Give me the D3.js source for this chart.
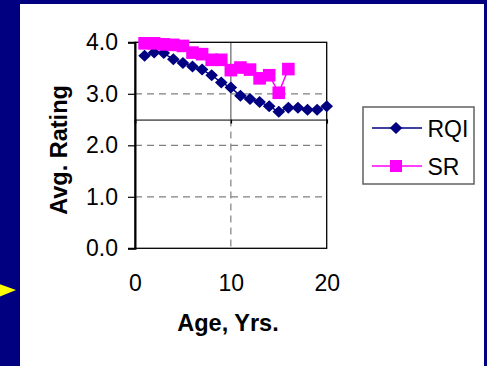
<!DOCTYPE html>
<html>
<head>
<meta charset="utf-8">
<script src="https://cdn.jsdelivr.net/npm/d3@7"></script>
<style>
  html, body { margin: 0; padding: 0; background: #000080; }
  svg { display: block; }
  text { font-family: Arial, "Liberation Sans", sans-serif; fill: #000; }
</style>
</head>
<body>
<svg id="chart" width="487" height="366"></svg>
<script>
// Ages (years) at which each rating was recorded
const rqiAges = [1, 2, 3, 4, 5, 6, 7, 8, 9, 10, 11, 12, 13, 14, 15, 16, 17, 18, 19, 20];
const rqiValues = [3.74, 3.80, 3.79, 3.67, 3.60, 3.53, 3.47, 3.36, 3.22, 3.12, 2.96, 2.90, 2.84, 2.76, 2.65, 2.73, 2.73, 2.69, 2.69, 2.76];
const srAges = [1, 2, 3, 4, 5, 6, 7, 8, 9, 10, 11, 12, 13, 14, 15, 16];
const srValues = [3.98, 3.98, 3.96, 3.95, 3.93, 3.80, 3.77, 3.66, 3.66, 3.46, 3.51, 3.47, 3.30, 3.36, 3.02, 3.48];
const xTicks = [0, 10, 20];
const yTicks = [0, 1, 2, 3, 4];
const yGrid = [1, 2, 3];
const crossValue = 2.5;   // horizontal reference line
const crossAge = 10;      // vertical reference line
const seriesNames = ["RQI", "SR"];

const svg = d3.select("#chart");

// slide background and white panel
svg.append("rect").attr("x", 0).attr("y", 0).attr("width", 487).attr("height", 366).attr("fill", "#000080");
svg.append("rect").attr("x", 20).attr("y", 4).attr("width", 464).attr("height", 362).attr("fill", "#ffffff");

// yellow bullet arrow on the left edge
svg.append("path")
  .attr("d", "M-6,282 L16,290 L-6,299 Z")
  .attr("fill", "#ffff00");

const x = d3.scaleLinear().domain([0, 20]).range([135, 326.7]);
const y = d3.scaleLinear().domain([0, 4]).range([248.3, 42.3]);

const grid = svg.append("g");
// dashed horizontal gridlines
grid.selectAll("line.h").data(yGrid).join("line")
  .attr("x1", x(0)).attr("x2", x(20))
  .attr("y1", d => y(d)).attr("y2", d => y(d))
  .attr("stroke", "#808080").attr("stroke-width", 1.2)
  .attr("stroke-dasharray", "7,5");
// vertical line at age 10: dashed below the reference value, solid above
grid.append("line")
  .attr("x1", x(crossAge)).attr("x2", x(crossAge))
  .attr("y1", y(crossValue)).attr("y2", y(0))
  .attr("stroke", "#808080").attr("stroke-width", 1.2)
  .attr("stroke-dasharray", "7,5");
grid.append("line")
  .attr("x1", x(crossAge)).attr("x2", x(crossAge))
  .attr("y1", y(4)).attr("y2", y(crossValue))
  .attr("stroke", "#707070").attr("stroke-width", 1.3);

// horizontal axis crossing at the reference value
const crossAxis = svg.append("g")
  .attr("transform", `translate(0,${y(crossValue)})`)
  .call(d3.axisBottom(x).tickValues(xTicks).tickSize(4).tickFormat(""));
crossAxis.select(".domain").attr("stroke", "#6a6a6a").attr("stroke-width", 1.8);
crossAxis.selectAll(".tick line").attr("stroke", "#000").attr("stroke-width", 1.5);

// plot frame
svg.append("rect")
  .attr("x", x(0)).attr("y", y(4))
  .attr("width", x(20) - x(0)).attr("height", y(0) - y(4))
  .attr("fill", "none").attr("stroke", "#000").attr("stroke-width", 1.3);

// y axis
const yAxis = svg.append("g")
  .attr("transform", `translate(${x(0)},0)`)
  .call(d3.axisLeft(y).tickValues(yTicks).tickSize(7).tickPadding(10).tickFormat(d3.format(".1f")));
yAxis.select(".domain").attr("stroke", "#000").attr("stroke-width", 2);
yAxis.selectAll(".tick line").attr("stroke", "#000").attr("stroke-width", 1.2);
yAxis.selectAll("text")
  .attr("font-size", 23).attr("fill", "#000")
  .attr("font-family", "Arial, 'Liberation Sans', sans-serif");

// x axis labels along the bottom
const xAxis = svg.append("g")
  .attr("transform", `translate(0,${y(0)})`)
  .call(d3.axisBottom(x).tickValues(xTicks).tickSize(0).tickPadding(26).tickFormat(d3.format("d")));
xAxis.select(".domain").remove();
xAxis.selectAll("text")
  .attr("font-size", 23).attr("fill", "#000")
  .attr("font-family", "Arial, 'Liberation Sans', sans-serif");

// axis titles
svg.append("text")
  .attr("x", 228).attr("y", 331)
  .attr("text-anchor", "middle")
  .attr("font-size", 23.5).attr("font-weight", "bold")
  .text("Age, Yrs.");
svg.append("text")
  .attr("transform", "translate(67,150) rotate(-90)")
  .attr("text-anchor", "middle")
  .attr("font-size", 23.5).attr("font-weight", "bold")
  .text("Avg. Rating");

const line = d3.line().x(d => x(d[0])).y(d => y(d[1]));
const rqi = rqiAges.map((a, i) => [a, rqiValues[i]]);
const sr = srAges.map((a, i) => [a, srValues[i]]);

const diamond = "M0,-6 L6.3,0 L0,6 L-6.3,0 Z";

// RQI series
svg.append("path").datum(rqi)
  .attr("d", line).attr("fill", "none")
  .attr("stroke", "#000080").attr("stroke-width", 1.5);
svg.append("g").selectAll("path").data(rqi).join("path")
  .attr("d", diamond)
  .attr("transform", d => `translate(${x(d[0])},${y(d[1])})`)
  .attr("fill", "#000080");

// SR series
svg.append("path").datum(sr)
  .attr("d", line).attr("fill", "none")
  .attr("stroke", "#ff00ff").attr("stroke-width", 1.5);
svg.append("g").selectAll("rect").data(sr).join("rect")
  .attr("x", d => x(d[0]) - 6.3).attr("y", d => y(d[1]) - 6.3)
  .attr("width", 12.6).attr("height", 12.6)
  .attr("fill", "#ff00ff");

// legend
const legend = svg.append("g");
legend.append("rect")
  .attr("x", 363).attr("y", 107).attr("width", 111).attr("height", 77)
  .attr("fill", "#fff").attr("stroke", "#606060").attr("stroke-width", 1.5);
const legendRows = [
  { name: seriesNames[0], color: "#000080", y: 128, shape: "diamond" },
  { name: seriesNames[1], color: "#ff00ff", y: 166, shape: "square" }
];
legendRows.forEach(r => {
  legend.append("line")
    .attr("x1", 372).attr("x2", 422).attr("y1", r.y).attr("y2", r.y)
    .attr("stroke", r.color).attr("stroke-width", 1.5);
  if (r.shape === "diamond") {
    legend.append("path").attr("d", diamond)
      .attr("transform", `translate(396,${r.y})`).attr("fill", r.color);
  } else {
    legend.append("rect").attr("x", 390).attr("y", r.y - 6)
      .attr("width", 12).attr("height", 12).attr("fill", r.color);
  }
  legend.append("text")
    .attr("x", 427.5).attr("y", r.y + 8.5)
    .attr("font-size", 23)
    .text(r.name);
});
</script>
</body>
</html>
